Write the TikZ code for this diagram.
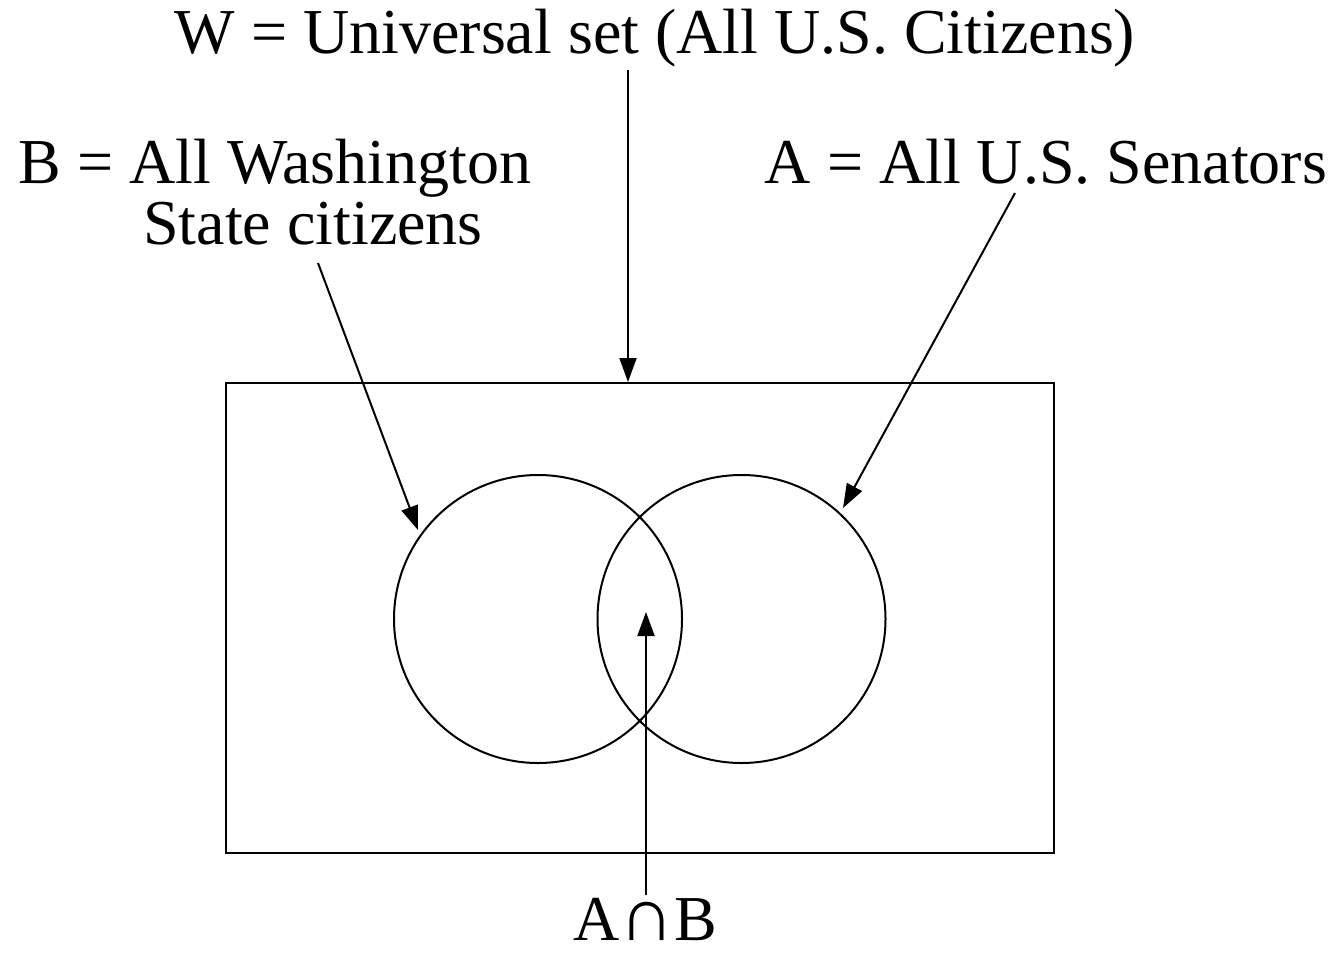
\documentclass[tikz,border=0pt]{standalone}
\usepackage{fontspec}
\setmainfont{Liberation Serif}
\usetikzlibrary{arrows.meta}

\begin{document}
\begin{tikzpicture}[
			x=0.5pt, y=-0.5pt,
			label/.style={
				anchor=base,
				inner sep=0pt,
				font=\fontsize{32}{38}\selectfont
			},
			pointer/.style={
				line width=1pt,
				-{Triangle[length=12pt,width=8.5pt]}
			},
			set/.style={
				draw,
				line width=1pt
			}
			]
			\useasboundingbox (0,0) rectangle (1338,953);
			% universal set and the two circles
			\node[set, rectangle, minimum width=414pt, minimum height=235pt, inner sep=0pt] (W) at (640,618) {};
			\node[set, circle, minimum size=144pt, inner sep=0pt] (B) at (538,619) {};
			\node[set, circle, minimum size=144pt, inner sep=0pt] (A) at (741.5,619) {};
			
			% labels
			\node[label] (wlabel) at (655,54) {W = Universal set (All U.S. Citizens)};
			\node[label] (blabel) at (275,183) {B = All Washington};
			\node[label] (blabel2) at (313,244) {State citizens};
			\node[label] (alabel) at (1046,183) {A = All U.S. Senators};
			\node[label] (ablabel) at (645,940) {A{\fontsize{38}{38}\selectfont ∩}B};
			
			\coordinate (wtail) at (628,70);
			\coordinate (wtip) at (628,382);
			\coordinate (btail) at (318,263);
			\coordinate (btip) at (418,530);
			\coordinate (atail) at (1015,193);
			\coordinate (atip) at (843,508);
			\coordinate (abtail) at (646,895);
			\coordinate (abtip) at (646,612);
			
			\draw[pointer] (wtail) -- (wtip);
			\draw[pointer] (btail) -- (btip);
			\draw[pointer] (atail) -- (atip);
			\draw[pointer] (abtail) -- (abtip);
		\end{tikzpicture}
\end{document}
